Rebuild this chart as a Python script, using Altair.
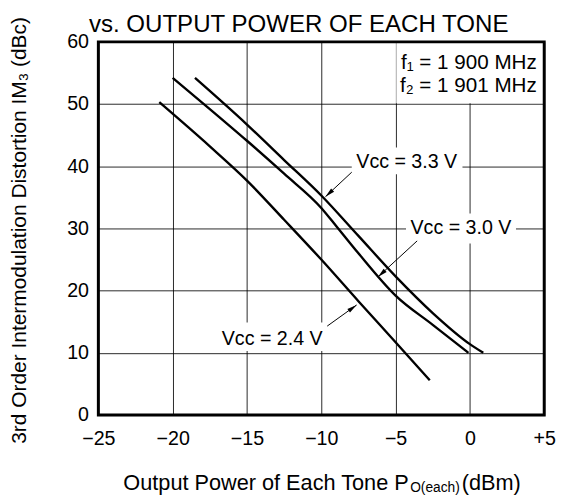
import math
import altair as alt
import pandas as pd

W, H = 454, 380
X_MIN, X_MAX, Y_MIN, Y_MAX = -25, 5, 0, 60
FONT = "Liberation Sans"

x_ticks = [-25, -20, -15, -10, -5, 0, 5]
y_ticks = [0, 10, 20, 30, 40, 50, 60]

# IM3 curves (x = output power of each tone dBm, y = IM3 dBc)
vcc33_x = [-18.5, -15.0, -12.5, -10.0, -7.5, -5.0, -2.5, 0.0, 0.9]
vcc33_y = [54.2, 46.7, 41.0, 35.3, 28.8, 22.3, 16.4, 11.4, 10.0]
vcc30_x = [-20.0, -17.5, -15.0, -12.5, -10.0, -9.0, -7.5, -5.0, -2.5, -0.1]
vcc30_y = [54.2, 49.2, 44.1, 38.8, 33.3, 30.4, 26.0, 19.2, 14.5, 10.0]
vcc24_x = [-20.9, -17.5, -15.0, -12.5, -10.0, -7.5, -5.0, -2.7]
vcc24_y = [50.3, 43.2, 37.7, 31.4, 25.0, 18.3, 11.7, 5.6]

# Curve labels
label_text = ["V\u1d04\u1d04 = 3.3 V", "V\u1d04\u1d04 = 3.0 V", "V\u1d04\u1d04 = 2.4 V"]
label_x = [-4.25, -0.6, -13.3]
label_y = [40.6, 30.1, 12.2]
box_x1 = [-7.95, -4.3, -17.2]
box_x2 = [-0.5, 3.1, -9.6]
box_y1 = [38.7, 27.6, 10.3]
box_y2 = [43.0, 32.4, 14.9]

# Arrows (start -> tip)
arrow_x1 = [-7.95, -3.55, -9.6]
arrow_y1 = [39.05, 28.0, 14.3]
arrow_x2 = [-9.72, -6.19, -7.62]
arrow_y2 = [35.1, 22.2, 17.7]

# Frequency note
freq_text = ["f\u2081 = 1 900 MHz", "f\u2082 = 1 901 MHz"]
freq_x = [4.5, 4.5]
freq_y = [56.6, 52.9]
freq_box = {"x": [-4.95], "x2": [5.0], "y": [50.15], "y2": [60.0]}

title_text = "vs. OUTPUT POWER OF EACH TONE"
ytitle_text = "3rd Order Intermodulation Distortion  IM\u2083 (dBc)"
xtitle_main = "Output Power of Each Tone  P"
xtitle_sub = "O(each)"
xtitle_unit = "(dBm)"

curves = pd.concat([
    pd.DataFrame({"x": vcc33_x, "y": vcc33_y, "vcc": "3.3"}),
    pd.DataFrame({"x": vcc30_x, "y": vcc30_y, "vcc": "3.0"}),
    pd.DataFrame({"x": vcc24_x, "y": vcc24_y, "vcc": "2.4"}),
], ignore_index=True)

labels = pd.DataFrame({"t": label_text, "x": label_x, "y": label_y,
                       "bx1": box_x1, "bx2": box_x2, "by1": box_y1, "by2": box_y2})

px_x = W / (X_MAX - X_MIN)
px_y = H / (Y_MAX - Y_MIN)
angles = []
for sx, sy, tx, ty in zip(arrow_x1, arrow_y1, arrow_x2, arrow_y2):
    dx = (tx - sx) * px_x
    dy = -(ty - sy) * px_y
    angles.append(math.degrees(math.atan2(dx, -dy)) % 360)
arrows = pd.DataFrame({"x1": arrow_x1, "y1": arrow_y1, "x2": arrow_x2, "y2": arrow_y2, "ang": angles})

freq = pd.DataFrame({"t": freq_text, "x": freq_x, "y": freq_y})

xs = alt.Scale(domain=[X_MIN, X_MAX], nice=False, zero=False)
ys = alt.Scale(domain=[Y_MIN, Y_MAX], nice=False, zero=False)

x_axis = alt.Axis(values=x_ticks, grid=True, ticks=False, domain=False, labelFontSize=20,
                  labelPadding=14, labelFlush=False,
                  labelExpr="datum.value > 0 ? '+' + datum.value : (datum.value < 0 ? '\u2212' + abs(datum.value) : '0')")
y_axis = alt.Axis(values=y_ticks, grid=True, ticks=False, domain=False, labelFontSize=20,
                  labelPadding=10, labelFlush=False)

base_lines = alt.Chart(curves).mark_line(color="black", strokeWidth=2.4, interpolate="monotone",
                                         strokeCap="butt").encode(
    x=alt.X("x:Q", scale=xs, axis=x_axis, title=None),
    y=alt.Y("y:Q", scale=ys, axis=y_axis, title=None),
    detail="vcc:N",
    order="x:Q",
)

boxes = alt.Chart(labels).mark_rect(fill="white").encode(
    x=alt.X("bx1:Q", scale=xs), x2="bx2:Q", y=alt.Y("by1:Q", scale=ys), y2="by2:Q")

fbox = alt.Chart(pd.DataFrame(freq_box)).mark_rect(fill="white").encode(
    x=alt.X("x:Q", scale=xs), x2="x2:Q", y=alt.Y("y:Q", scale=ys), y2="y2:Q")

shafts = alt.Chart(arrows).mark_rule(color="black", strokeWidth=1).encode(
    x=alt.X("x1:Q", scale=xs), y=alt.Y("y1:Q", scale=ys), x2="x2:Q", y2="y2:Q")

heads = alt.Chart(arrows).mark_point(shape="M0,0L0.45,2L-0.45,2Z", filled=True, size=100,
                                     color="black", opacity=1, strokeWidth=0).encode(
    x=alt.X("x2:Q", scale=xs), y=alt.Y("y2:Q", scale=ys), angle=alt.Angle("ang:Q", scale=None))

label_txt = alt.Chart(labels).mark_text(font=FONT, fontSize=20, color="black", align="center",
                                        baseline="middle").encode(
    x=alt.X("x:Q", scale=xs), y=alt.Y("y:Q", scale=ys), text="t:N")

freq_txt = alt.Chart(freq).mark_text(font=FONT, fontSize=21, color="black", align="right",
                                     baseline="middle").encode(
    x=alt.X("x:Q", scale=xs), y=alt.Y("y:Q", scale=ys), text="t:N")

frame = alt.Chart(pd.DataFrame({"x": [X_MIN], "x2": [X_MAX], "y": [Y_MIN], "y2": [Y_MAX]})).mark_rect(
    fillOpacity=0, stroke="black", strokeWidth=3).encode(
    x=alt.X("x:Q", scale=xs), x2="x2:Q", y=alt.Y("y:Q", scale=ys), y2="y2:Q")

one = pd.DataFrame({"a": [0]})
top_title = alt.Chart(one).mark_text(text=title_text, font=FONT, fontSize=24.5, color="black",
                                     align="center", baseline="top").encode(
    x=alt.value(204), y=alt.value(-29))
y_title = alt.Chart(one).mark_text(text=ytitle_text, font=FONT, fontSize=21.3, color="black",
                                   align="center", baseline="top", angle=270).encode(
    x=alt.value(-91), y=alt.value(192))
x_title1 = alt.Chart(one).mark_text(text=xtitle_main, font=FONT, fontSize=22.1, color="black",
                                    align="right", baseline="alphabetic").encode(
    x=alt.value(316), y=alt.value(456))
x_title2 = alt.Chart(one).mark_text(text=xtitle_sub, font=FONT, fontSize=14, color="black",
                                    align="left", baseline="alphabetic").encode(
    x=alt.value(317.5), y=alt.value(458))
x_title3 = alt.Chart(one).mark_text(text=xtitle_unit, font=FONT, fontSize=22.1, color="black",
                                    align="left", baseline="alphabetic").encode(
    x=alt.value(370), y=alt.value(456))

chart = alt.layer(
    boxes, fbox, base_lines, shafts, heads, label_txt, freq_txt, frame,
    top_title, y_title, x_title1, x_title2, x_title3,
).properties(width=W, height=H, padding=0).configure_view(
    stroke="transparent"
).configure_axis(
    gridColor="black", gridWidth=1, gridOpacity=0.85, labelFont=FONT, labelColor="black"
)

chart.save("out.html", embed_options={"renderer": "svg", "actions": False})
